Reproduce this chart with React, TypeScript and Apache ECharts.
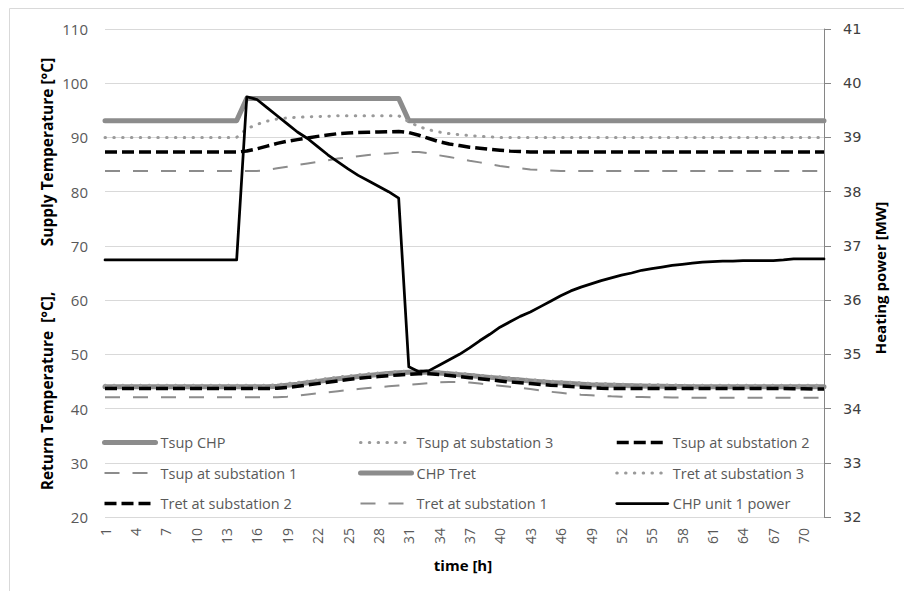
import React, { useEffect, useRef } from "react";
import * as echarts from "echarts";

const hours = Array.from({ length: 72 }, (_, i) => String(i + 1));

const tsupCHP = [
  93.1, 93.1, 93.1, 93.1, 93.1, 93.1, 93.1, 93.1, 93.1, 93.1, 93.1, 93.1, 93.1, 93.1,
  97.2, 97.2, 97.2, 97.2, 97.2, 97.2, 97.2, 97.2, 97.2, 97.2, 97.2, 97.2, 97.2, 97.2, 97.2, 97.2,
  93.1, 93.1, 93.1, 93.1, 93.1, 93.1, 93.1, 93.1, 93.1, 93.1, 93.1, 93.1, 93.1, 93.1,
  93.1, 93.1, 93.1, 93.1, 93.1, 93.1, 93.1, 93.1, 93.1, 93.1, 93.1, 93.1, 93.1, 93.1,
  93.1, 93.1, 93.1, 93.1, 93.1, 93.1, 93.1, 93.1, 93.1, 93.1, 93.1, 93.1, 93.1, 93.1,
];

const tsupSub3 = [
  90, 90, 90, 90, 90, 90, 90, 90, 90, 90, 90, 90, 90, 90,
  91.6, 92.4, 93.0, 93.4, 93.6, 93.7, 93.8, 93.85, 93.9,
  94, 94, 94, 94, 94, 94, 94,
  92.9, 92.0, 91.4, 91.0, 90.7, 90.5, 90.35, 90.2, 90.1,
  90, 90, 90, 90, 90, 90, 90, 90, 90, 90, 90, 90, 90, 90, 90, 90, 90,
  90, 90, 90, 90, 90, 90, 90, 90, 90, 90, 90, 90, 90, 90, 90, 90,
];

const tsupSub2 = [
  87.3, 87.3, 87.3, 87.3, 87.3, 87.3, 87.3, 87.3, 87.3, 87.3, 87.3, 87.3, 87.3, 87.3,
  87.5, 87.9, 88.4, 88.9, 89.3, 89.6, 89.9, 90.2, 90.45, 90.7, 90.8, 90.9, 90.95, 91.0, 91.05, 91.1,
  90.9, 90.4, 89.8, 89.2, 88.8, 88.5, 88.2, 88.0, 87.8, 87.65, 87.5, 87.4,
  87.3, 87.3, 87.3, 87.3, 87.3, 87.3, 87.3, 87.3, 87.3, 87.3, 87.3, 87.3, 87.3, 87.3, 87.3,
  87.3, 87.3, 87.3, 87.3, 87.3, 87.3, 87.3, 87.3, 87.3, 87.3, 87.3, 87.3, 87.3, 87.3, 87.3,
];

const tsupSub1 = [
  83.8, 83.8, 83.8, 83.8, 83.8, 83.8, 83.8, 83.8, 83.8, 83.8, 83.8, 83.8, 83.8, 83.8, 83.8, 83.8,
  84.0, 84.3, 84.6, 84.9, 85.2, 85.5, 85.8, 86.1, 86.35, 86.55, 86.75, 86.9, 87.05, 87.2, 87.35, 87.3,
  87.05, 86.7, 86.4, 86.05, 85.7, 85.4, 85.05, 84.75, 84.5, 84.3, 84.1, 84.0, 83.9,
  83.8, 83.8, 83.8, 83.8, 83.8, 83.8, 83.8, 83.8, 83.8, 83.8, 83.8, 83.8, 83.8, 83.8,
  83.8, 83.8, 83.8, 83.8, 83.8, 83.8, 83.8, 83.8, 83.8, 83.8, 83.8, 83.8, 83.8,
];

const chpTret = [
  44.0, 44.0, 44.0, 44.0, 44.0, 44.0, 44.0, 44.0, 44.0, 44.0, 44.0, 44.0, 44.0, 44.0, 44.0, 44.0, 44.0,
  44.1, 44.3, 44.5, 44.75, 45.0, 45.25, 45.5, 45.7, 45.9, 46.1, 46.3, 46.45, 46.6, 46.7, 46.75,
  46.7, 46.55, 46.4, 46.25, 46.1, 45.9, 45.75, 45.6, 45.4, 45.25, 45.1, 44.95, 44.8, 44.7, 44.6,
  44.5, 44.4, 44.35, 44.3, 44.25, 44.2, 44.15, 44.1, 44.1, 44.05, 44.05,
  44.0, 44.0, 44.0, 44.0, 44.0, 44.0, 44.0, 44.0, 44.0, 44.0, 44.0, 44.0, 44.0, 44.0,
];

const tretSub3 = [
  44.3, 44.3, 44.3, 44.3, 44.3, 44.3, 44.3, 44.3, 44.3, 44.3, 44.3, 44.3, 44.3, 44.3, 44.3, 44.3, 44.3,
  44.4, 44.6, 44.8, 45.05, 45.3, 45.55, 45.8, 46.0, 46.2, 46.4, 46.55, 46.7, 46.85, 46.95, 47.0,
  46.95, 46.8, 46.65, 46.5, 46.35, 46.15, 46.0, 45.85, 45.65, 45.5, 45.35, 45.2, 45.05, 44.95, 44.85,
  44.75, 44.65, 44.6, 44.55, 44.5, 44.45, 44.4, 44.4, 44.35, 44.35, 44.3,
  44.3, 44.3, 44.3, 44.3, 44.3, 44.3, 44.3, 44.3, 44.3, 44.3, 44.3, 44.3, 44.3, 44.3,
];

const tretSub2 = [
  43.7, 43.7, 43.7, 43.7, 43.7, 43.7, 43.7, 43.7, 43.7, 43.7, 43.7, 43.7, 43.7, 43.7, 43.7, 43.7, 43.7,
  43.75, 43.9, 44.1, 44.35, 44.6, 44.85, 45.1, 45.35, 45.55, 45.75, 45.9, 46.05, 46.2, 46.3, 46.4, 46.4,
  46.3, 46.1, 45.9, 45.7, 45.5, 45.3, 45.1, 44.9, 44.75, 44.6, 44.45, 44.3, 44.2, 44.05, 43.95, 43.85, 43.75,
  43.7, 43.7, 43.7, 43.7, 43.7, 43.7, 43.7, 43.7, 43.7, 43.7, 43.7,
  43.7, 43.7, 43.7, 43.7, 43.7, 43.7, 43.7, 43.65, 43.65, 43.6, 43.6,
];

const tretSub1 = [
  42.1, 42.1, 42.1, 42.1, 42.1, 42.1, 42.1, 42.1, 42.1, 42.1, 42.1, 42.1, 42.1, 42.1, 42.1, 42.1, 42.1, 42.1,
  42.2, 42.4, 42.6, 42.8, 43.0, 43.2, 43.4, 43.6, 43.8, 43.95, 44.1, 44.25, 44.4, 44.55, 44.7, 44.85, 44.9, 44.9,
  44.8, 44.6, 44.4, 44.2, 44.0, 43.8, 43.6, 43.35, 43.1, 42.9, 42.7,
  42.55, 42.45, 42.35, 42.25, 42.2, 42.15, 42.15, 42.1, 42.1, 42.05, 42.05,
  42.0, 42.0, 42.0, 42.0, 42.0, 42.0, 42.0, 42.0, 42.0, 42.0, 42.0, 42.0, 42.0, 42.0,
];

const chpPower = [
  36.74, 36.74, 36.74, 36.74, 36.74, 36.74, 36.74, 36.74, 36.74, 36.74, 36.74, 36.74, 36.74, 36.74,
  39.75, 39.7, 39.55, 39.4, 39.25, 39.1, 38.98, 38.83, 38.68, 38.55, 38.42, 38.3, 38.2, 38.1, 38.0, 37.88,
  34.77, 34.68, 34.7, 34.8, 34.9, 35.0, 35.12, 35.25, 35.37, 35.5, 35.6, 35.7, 35.78, 35.88,
  35.98, 36.08, 36.17, 36.24, 36.3, 36.36, 36.41, 36.46, 36.5, 36.55, 36.58, 36.61, 36.64, 36.66,
  36.68, 36.7, 36.71, 36.72, 36.72, 36.73, 36.73, 36.73, 36.73, 36.74, 36.76, 36.76, 36.76, 36.76,
];

const leftTicks = { min: 20, max: 110, interval: 10 };
const rightTicks = { min: 32, max: 41, interval: 1 };

const GRAY = "#8c8c8c";
const DOTGRAY = "#9a9a9a";
const BLACK = "#000000";

const DOT: number[] = [0.5, 8.3];
const DASH: number[] = [12, 5];
const LONGDASH: number[] = [15, 13];

function mk(
  name: string,
  data: number[],
  color: string,
  width: number,
  type: any,
  cap: string,
  yAxisIndex = 0
) {
  return {
    name,
    type: "line",
    data,
    yAxisIndex,
    symbol: "none",
    showSymbol: false,
    smooth: false,
    lineStyle: { color, width, type, cap, join: "round" },
    itemStyle: { color },
    emphasis: { disabled: true },
  };
}

const legendBase = {
  orient: "vertical",
  itemWidth: 51,
  itemHeight: 14,
  itemGap: 15.5,
  top: 435,
  selectedMode: false,
  padding: 0,
  textStyle: { fontFamily: "Open Sans", fontSize: 14.5, color: "#595959", lineHeight: 14 },
  lineStyle: { width: "inherit" },
  itemStyle: { opacity: 0, borderWidth: 0 },
};

const titleFont = "bold 15.5px 'Open Sans'";

export default function App() {
  const ref = useRef<HTMLDivElement>(null);
  useEffect(() => {
    const chart = echarts.init(ref.current!, null, { renderer: "svg" });
    const option: any = {
      animation: false,
      backgroundColor: "#ffffff",
      grid: { left: 105, right: 80, top: 29, bottom: 74, containLabel: false },
      xAxis: {
        type: "category",
        data: hours,
        boundaryGap: false,
        axisLine: { show: false },
        axisTick: { show: false },
        axisLabel: {
          interval: 2,
          rotate: 90,
          margin: 11,
          color: "#595959",
          fontFamily: "Open Sans",
          fontSize: 14,
        },
        splitLine: { show: false },
      },
      yAxis: [
        {
          type: "value",
          position: "left",
          ...leftTicks,
          axisLine: { show: false },
          axisTick: { show: false },
          axisLabel: { margin: 17, color: "#595959", fontFamily: "Open Sans", fontSize: 15 },
          splitLine: { show: true, lineStyle: { color: "#d9d9d9", width: 1 } },
        },
        {
          type: "value",
          position: "right",
          ...rightTicks,
          axisLine: { show: true, lineStyle: { color: "#868686", width: 1 } },
          axisTick: { show: true, inside: false, length: 7, lineStyle: { color: "#868686" } },
          axisLabel: { margin: 19, color: "#404040", fontFamily: "DejaVu Sans", fontSize: 14.5 },
          splitLine: { show: false },
        },
      ],
      legend: [
        { ...legendBase, left: 102, data: ["Tsup CHP", "Tsup at substation 1", "Tret at substation 2"] },
        { ...legendBase, left: 358, data: ["Tsup at substation 3", "CHP Tret", "Tret at substation 1"] },
        { ...legendBase, left: 615, data: ["Tsup at substation 2", "Tret at substation 3", "CHP unit 1 power"] },
      ],
      graphic: [
        {
          type: "rect",
          silent: true,
          z: -10,
          shape: { x: 9.5, y: 8.5, width: 900, height: 600 },
          style: { fill: "none", stroke: "#d9d9d9", lineWidth: 1 },
        },
        {
          type: "text",
          x: 47,
          y: 152,
          rotation: Math.PI / 2,
          style: { text: "Supply Temperature [°C]", font: titleFont, fill: "#000", align: "center", verticalAlign: "middle" },
        },
        {
          type: "text",
          x: 47,
          y: 391,
          rotation: Math.PI / 2,
          style: { text: "Return Temperature  [°C],", font: titleFont, fill: "#000", align: "center", verticalAlign: "middle" },
        },
        {
          type: "text",
          x: 880,
          y: 278,
          rotation: Math.PI / 2,
          style: { text: "Heating power [MW]", font: "bold 15px 'Open Sans'", fill: "#000", align: "center", verticalAlign: "middle" },
        },
        {
          type: "text",
          x: 463,
          y: 565,
          style: { text: "time [h]", font: "bold 15px 'Open Sans'", fill: "#000", align: "center", verticalAlign: "middle" },
        },
      ],
      series: [
        mk("Tsup CHP", tsupCHP, GRAY, 5, "solid", "round"),
        mk("Tsup at substation 3", tsupSub3, DOTGRAY, 3, DOT, "round"),
        mk("Tsup at substation 2", tsupSub2, BLACK, 3.5, DASH, "butt"),
        mk("Tsup at substation 1", tsupSub1, GRAY, 2, LONGDASH, "butt"),
        mk("CHP Tret", chpTret, GRAY, 5, "solid", "round"),
        mk("Tret at substation 3", tretSub3, DOTGRAY, 3, DOT, "round"),
        mk("Tret at substation 2", tretSub2, BLACK, 3.5, DASH, "butt"),
        mk("Tret at substation 1", tretSub1, GRAY, 2, LONGDASH, "butt"),
        mk("CHP unit 1 power", chpPower, BLACK, 2.75, "solid", "round", 1),
      ],
    };
    chart.setOption(option);
    return () => chart.dispose();
  }, []);
  return (
    <div
      ref={ref}
      style={{ position: "absolute", left: 0, top: 0, width: 904, height: 591, background: "#fff" }}
    />
  );
}
